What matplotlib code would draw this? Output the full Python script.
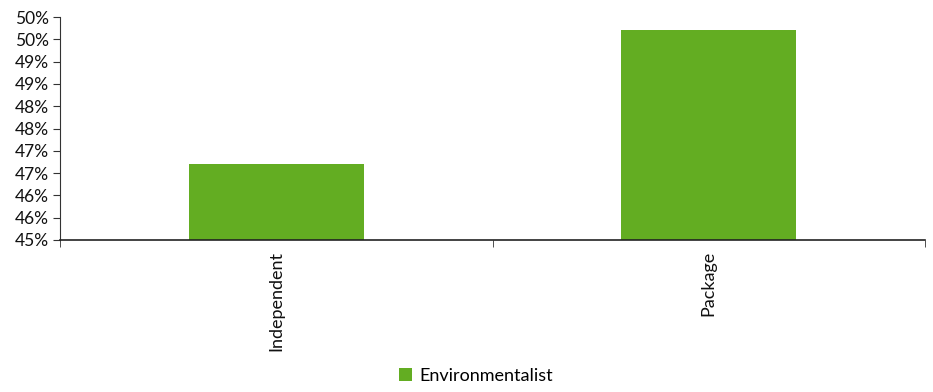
import matplotlib
matplotlib.use('Agg')
import matplotlib.pyplot as plt
from matplotlib.ticker import FuncFormatter, MultipleLocator

categories = ["Independent", "Package"]
series_name = "Environmentalist"
values = [46.70, 49.71]  # percent

plt.rcParams['font.family'] = ['Lato', 'DejaVu Sans']

fig = plt.figure(figsize=(9.33, 3.92), dpi=100)
ax = fig.add_axes([60/933, 1-240/392, 865/933, 223/392])

x = list(range(len(categories)))
ax.bar(x, [v - 45 for v in values], bottom=45, width=0.405, color='#63AD22',
       label=series_name, zorder=2)

ax.set_xlim(-0.5, 1.5)
ax.set_ylim(45, 50)
ax.yaxis.set_major_locator(MultipleLocator(0.5))
ax.yaxis.set_major_formatter(FuncFormatter(lambda v, p: f"{int(v + 0.5 + 1e-9)}%"))
ax.tick_params(axis='y', labelsize=12.5, length=5, color='#333333', labelcolor='#111111', pad=3)

ax.set_xticks(x)
ax.set_xticklabels(categories, rotation=90, fontsize=13, color='#111111')
ax.tick_params(axis='x', length=0, pad=8)
# category separators on x axis
ax.set_xticks([-0.5, 0.5, 1.5], minor=True)
ax.tick_params(axis='x', which='minor', length=5, color='#333333', direction='out')

for s in ['top', 'right']:
    ax.spines[s].set_visible(False)
ax.spines['left'].set_color('#333333')
ax.spines['bottom'].set_color('#222222')
ax.spines['bottom'].set_linewidth(1.2)
ax.spines['bottom'].set_zorder(3)

fig.legend(loc='lower center', bbox_to_anchor=(0.51, -0.02), frameon=False,
           fontsize=13, handlelength=0.75, handleheight=0.75, handletextpad=0.4)

fig.savefig('out.png', dpi=100, facecolor='white')
